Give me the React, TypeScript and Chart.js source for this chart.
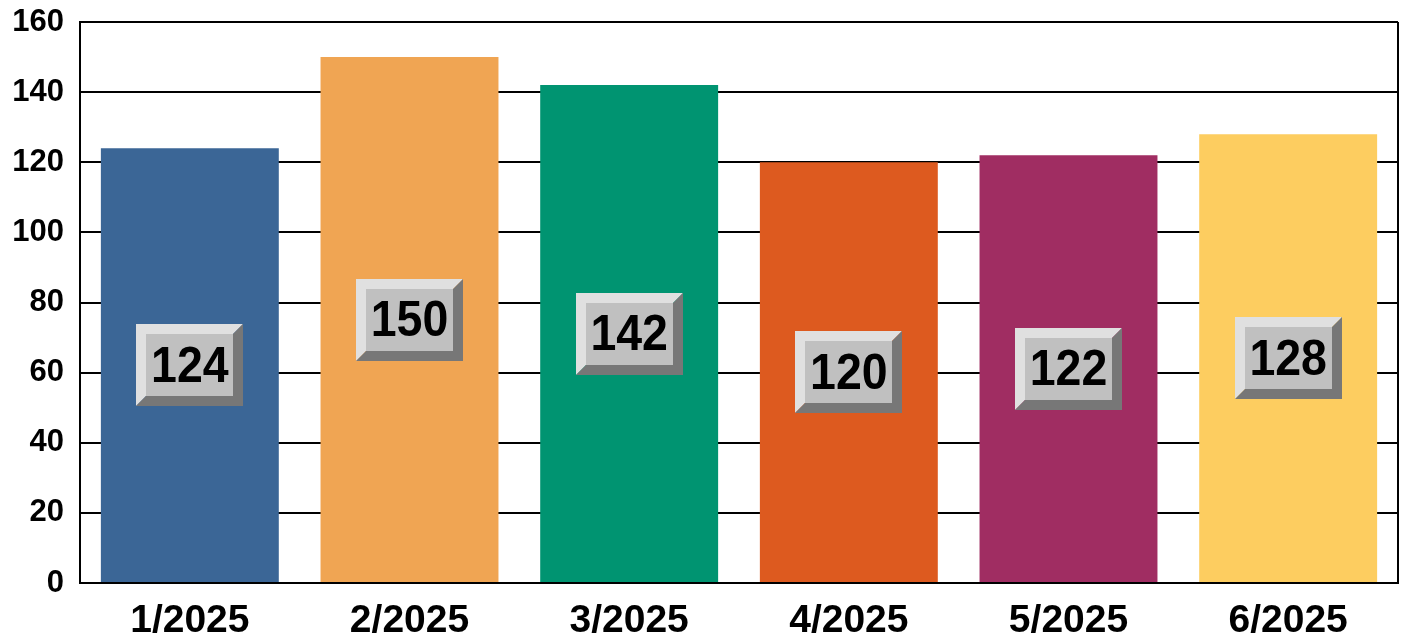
import React, { useEffect, useRef } from "react";
import { Chart, registerables } from "chart.js";

Chart.register(...registerables);

const categories = ["1/2025", "2/2025", "3/2025", "4/2025", "5/2025", "6/2025"];
const values = [124, 150, 142, 120, 122, 128];
const barColors = ["#3b6696", "#f0a553", "#009471", "#dd5a1f", "#a02d62", "#fdcd60"];
const yTicks = [0, 20, 40, 60, 80, 100, 120, 140, 160];

const bevelLabels = {
  id: "bevelLabels",
  afterDatasetsDraw(chart: any) {
    const ctx = chart.ctx;
    const meta = chart.getDatasetMeta(0);
    const w = 107, h = 82, b = 10;
    meta.data.forEach((bar: any, i: number) => {
      const cx = bar.x;
      const cy = (bar.y + bar.base) / 2;
      const x0 = Math.round(cx - w / 2), y0 = Math.round(cy - h / 2);
      const x1 = x0 + w, y1 = y0 + h;
      ctx.save();
      ctx.fillStyle = "#e0e0e0";
      ctx.beginPath();
      ctx.moveTo(x0, y0); ctx.lineTo(x1, y0); ctx.lineTo(x1 - b, y0 + b);
      ctx.lineTo(x0 + b, y0 + b); ctx.lineTo(x0 + b, y1 - b); ctx.lineTo(x0, y1);
      ctx.closePath(); ctx.fill();
      ctx.fillStyle = "#777777";
      ctx.beginPath();
      ctx.moveTo(x1, y0); ctx.lineTo(x1, y1); ctx.lineTo(x0, y1);
      ctx.lineTo(x0 + b, y1 - b); ctx.lineTo(x1 - b, y1 - b); ctx.lineTo(x1 - b, y0 + b);
      ctx.closePath(); ctx.fill();
      ctx.fillStyle = "#c0c0c0";
      ctx.fillRect(x0 + b, y0 + b, w - 2 * b, h - 2 * b);
      ctx.fillStyle = "#000";
      ctx.font = "bold 50px 'Liberation Sans', Arial, sans-serif";
      ctx.textAlign = "center";
      ctx.textBaseline = "middle";
      ctx.translate(cx, cy + 3);
      ctx.scale(0.93, 1);
      ctx.fillText(String(values[i]), 0, 0);
      ctx.restore();
    });
  },
};

const frame = {
  id: "frame",
  afterDraw(chart: any) {
    const { ctx, chartArea } = chart;
    ctx.save();
    ctx.strokeStyle = "#000";
    ctx.lineWidth = 2;
    ctx.beginPath();
    ctx.moveTo(chartArea.right, chartArea.top);
    ctx.lineTo(chartArea.right, chartArea.bottom);
    ctx.stroke();
    ctx.restore();
  },
};

export default function App() {
  const ref = useRef<HTMLCanvasElement>(null);
  useEffect(() => {
    document.body.style.margin = "0";
    const chart = new Chart(ref.current!, {
      type: "bar",
      data: {
        labels: categories,
        datasets: [
          {
            data: values,
            backgroundColor: barColors,
            borderWidth: 0,
            barPercentage: 0.81,
            categoryPercentage: 1,
          },
        ],
      },
      plugins: [bevelLabels, frame],
      options: {
        animation: false,
        responsive: true,
        maintainAspectRatio: false,
        layout: { padding: { top: 22, right: 7, left: 0, bottom: 0 } },
        plugins: { legend: { display: false }, tooltip: { enabled: false } },
        scales: {
          x: {
            afterFit: (s: any) => {
              s.height = 58;
              s.paddingLeft = 0;
              s.paddingRight = 0;
            },
            grid: { display: false },
            border: { display: true, color: "#000", width: 2 },
            ticks: {
              color: "#000",
              font: { family: "'Liberation Sans', Arial, sans-serif", size: 39, weight: "bold", lineHeight: 1 },
              padding: 11,
            },
          },
          y: {
            min: 0,
            max: 160,
            afterFit: (s: any) => {
              s.width = 80;
              s.paddingTop = 0;
              s.paddingBottom = 0;
            },
            afterBuildTicks: (axis: any) => {
              axis.ticks = yTicks.map((v) => ({ value: v }));
            },
            grid: { color: "#000", lineWidth: 2, drawTicks: false },
            border: { display: true, color: "#000", width: 2 },
            ticks: {
              color: "#000",
              padding: 16,
              font: { family: "'Liberation Sans', Arial, sans-serif", size: 31, weight: "bold" },
            },
          },
        },
      },
    });
    return () => chart.destroy();
  }, []);
  return (
    <div style={{ width: 1405, height: 641, position: "relative" }}>
      <canvas ref={ref} />
    </div>
  );
}
